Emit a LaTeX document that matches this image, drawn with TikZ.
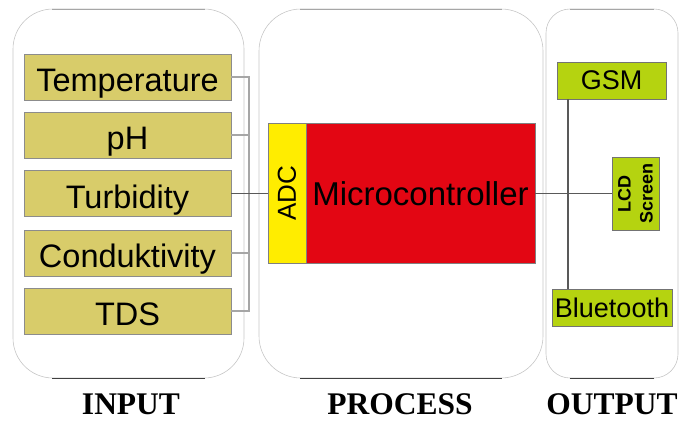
\documentclass[tikz,border=0pt]{standalone}
\usepackage{fontspec}
\setmainfont{Liberation Serif}
\setsansfont{Liberation Sans}
\definecolor{khaki}{RGB}{216,204,106}
\definecolor{mcred}{RGB}{227,6,19}
\definecolor{adcyellow}{RGB}{255,237,0}
\definecolor{lime}{RGB}{181,211,16}
\tikzset{
  panel/.style={draw=gray!45,line width=0.6pt,rounded corners=#1},
  sensor/.style={draw=black!45,fill=khaki,line width=0.8pt,inner sep=0pt,
    minimum width=207pt,minimum height=46pt,text height=29pt,text depth=0pt,
    font=\sffamily\fontsize{32.5}{32.5}\selectfont},
  device/.style={draw=black!55,fill=lime,line width=0.8pt,inner sep=0pt,
    font=\sffamily\fontsize{27}{27}\selectfont},
  wire/.style={gray!70,line width=1.2pt},
  mainwire/.style={black!65,line width=1.2pt},
  stage/.style={anchor=base,inner sep=0pt,font=\bfseries\fontsize{31.5}{31.5}\selectfont}
}
\begin{document}
\begin{tikzpicture}[x=1pt,y=-1pt]
   \useasboundingbox (0,0) rectangle (681,421);
   % the three stages
   \draw[panel=40pt] (13,9) rectangle (244,378);
   \draw[panel=42pt] (259,9) rectangle (543,378);
   \draw[panel=24pt] (546,9) rectangle (678,378);
   \draw[black!75,line width=0.8pt] (52,378)--(205,378);
   \draw[black!75,line width=0.8pt] (300,378)--(502,378);
   \draw[black!75,line width=0.8pt] (570,378)--(654,378);
   \draw[gray!70,line width=0.6pt] (52,9)--(205,9);
   \draw[gray!70,line width=0.6pt] (300,9)--(502,9);
   \draw[gray!70,line width=0.6pt] (570,9)--(654,9);
   % sensors
   \node[sensor] (temp) at (127.5,77) {Temperature};
   \node[sensor] (ph) at (127.5,135) {pH};
   \node[sensor] (turb) at (127.5,193.5) {Turbidity};
   \node[sensor] (cond) at (127.5,253) {Conduktivity};
   \node[sensor] (tds) at (127.5,311) {TDS};
   % processing unit
   \node[draw=black!50,fill=mcred,line width=0.8pt,inner sep=0pt,
     minimum width=229pt,minimum height=140pt,
     font=\sffamily\fontsize{33}{33}\selectfont] (micro) at (420.5,193.5) {Microcontroller};
   \node[draw=black!50,fill=adcyellow,line width=0.8pt,inner sep=0pt,
     minimum width=140pt,minimum height=38pt,rotate=90,
     font=\sffamily\fontsize{26}{26}\selectfont] (adc) at (287,193.5) {ADC};
   % outputs
   \node[device,minimum width=109pt,minimum height=37pt] (gsm) at (611.5,80.5) {GSM};
   \node[device,minimum width=73pt,minimum height=47pt,rotate=90,align=center,
     font=\sffamily\bfseries\fontsize{18}{22}\selectfont] (lcd) at (635.5,193.5) {LCD\\Screen};
   \node[device,minimum width=120pt,minimum height=37pt] (bt) at (612,307.5) {Bluetooth};
   % wiring
   \coordinate (inbus) at (249,193.5);
   \coordinate (outbus) at (568,193.5);
   \draw[wire] (temp.east) -| (inbus);
   \draw[wire] (tds.east) -| (inbus);
   \draw[wire] (ph.east) -- (ph.east -| inbus);
   \draw[wire] (cond.east) -- (cond.east -| inbus);
   \draw[mainwire] (turb.east) -- (adc.north);
   \draw[mainwire] (micro.east) -- (lcd.north);
   \draw[mainwire] (gsm.south -| outbus) -- (bt.north -| outbus);
   % stage titles
   \node[stage] (tin) at (131,414) {INPUT};
   \node[stage] (tproc) at (400,414) {PROCESS};
   \node[stage] (tout) at (612,414) {OUTPUT};
 \end{tikzpicture}
\end{document}
